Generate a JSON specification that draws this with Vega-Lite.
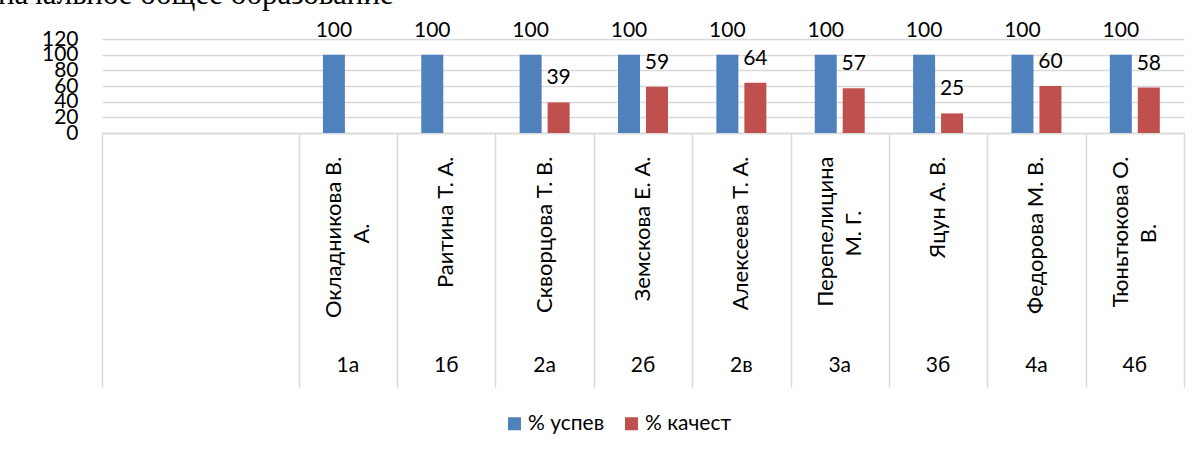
{
  "$schema": "https://vega.github.io/schema/vega-lite/v6.json",
  "width": 1082,
  "height": 94,
  "autosize": {"type": "none"},
  "padding": {"left": 102, "top": 39, "right": 16, "bottom": 320},
  "background": "white",
  "title": {
    "text": "начальное общее образование",
    "font": "Liberation Serif",
    "fontSize": 31,
    "fontWeight": "normal",
    "color": "#000000",
    "anchor": "start",
    "frame": "group",
    "baseline": "alphabetic",
    "offset": -15,
    "dx": -104
  },
  "config": {
    "view": {"stroke": null},
    "font": "Lato",
    "axis": {"labelFont": "Lato", "labelColor": "#000000", "labelFontSize": 21}
  },
  "data": {
    "values": [
      {"k": "Окладникова В.|А.#1а", "s": "% успев", "v": 100},
      {"k": "Раитина Т. А.#1б", "s": "% успев", "v": 100},
      {"k": "Скворцова Т. В.#2а", "s": "% успев", "v": 100},
      {"k": "Скворцова Т. В.#2а", "s": "% качест", "v": 39},
      {"k": "Земскова Е. А.#2б", "s": "% успев", "v": 100},
      {"k": "Земскова Е. А.#2б", "s": "% качест", "v": 59},
      {"k": "Алексеева Т. А.#2в", "s": "% успев", "v": 100},
      {"k": "Алексеева Т. А.#2в", "s": "% качест", "v": 64},
      {"k": "Перепелицина|М. Г.#3а", "s": "% успев", "v": 100},
      {"k": "Перепелицина|М. Г.#3а", "s": "% качест", "v": 57},
      {"k": "Яцун А. В.#3б", "s": "% успев", "v": 100},
      {"k": "Яцун А. В.#3б", "s": "% качест", "v": 25},
      {"k": "Федорова М. В.#4а", "s": "% успев", "v": 100},
      {"k": "Федорова М. В.#4а", "s": "% качест", "v": 60},
      {"k": "Тюньтюкова О.|В.#4б", "s": "% успев", "v": 100},
      {"k": "Тюньтюкова О.|В.#4б", "s": "% качест", "v": 58}
    ]
  },
  "resolve": {"axis": {"x": "independent"}},
  "layer": [
    {
      "mark": {"type": "bar"},
      "encoding": {
        "x": {
          "field": "k", "type": "nominal",
          "scale": {"domain": ["#", " #", "Окладникова В.|А.#1а", "Раитина Т. А.#1б", "Скворцова Т. В.#2а", "Земскова Е. А.#2б", "Алексеева Т. А.#2в", "Перепелицина|М. Г.#3а", "Яцун А. В.#3б", "Федорова М. В.#4а", "Тюньтюкова О.|В.#4б"], "paddingInner": 0, "paddingOuter": 0},
          "axis": {
            "orient": "bottom", "title": null, "ticks": false, "grid": false,
            "domain": true, "domainColor": "#d9d9d9", "domainWidth": 1.5,
            "labelAngle": 270, "labelAlign": "right", "labelBaseline": "middle",
            "labelFontSize": 22,
            "labelPadding": 23, "labelLimit": 0, "labelOverlap": false,
            "labelOffset": {"condition": {"test": "indexof(datum.value,'|') >= 0", "value": -14}, "value": 0},
            "labelExpr": "split(split(datum.value,'#')[0],'|')[0]"
          }
        },
        "xOffset": {"field": "s", "type": "nominal", "scale": {"domain": ["% успев", "% качест"], "paddingInner": 0.214, "paddingOuter": 0.864}},
        "y": {
          "field": "v", "type": "quantitative",
          "scale": {"domain": [0, 120], "nice": false},
          "axis": {"values": [0, 20, 40, 60, 80, 100, 120], "title": null, "domain": false, "ticks": false, "labelPadding": 24, "labelOverlap": false, "labelBaseline": "middle", "gridColor": "#d9d9d9", "gridWidth": 1.5}
        },
        "color": {
          "field": "s", "type": "nominal",
          "scale": {"domain": ["% успев", "% качест"], "range": ["#4F81BD", "#C0504D"]},
          "legend": {"orient": "none", "legendX": 402, "legendY": 374, "direction": "horizontal", "title": null, "symbolType": "square", "symbolSize": 169, "symbolStrokeWidth": 0, "labelFont": "Lato", "labelFontSize": 21, "labelColor": "#000000", "labelOffset": 3, "columnPadding": 16, "padding": 0}
        }
      }
    },
    {
      "mark": {"type": "text", "baseline": "alphabetic", "dy": -18, "fontSize": 21, "font": "Lato", "color": "#000000"},
      "encoding": {
        "x": {
          "field": "k", "type": "nominal",
          "axis": {"orient": "bottom", "title": null, "ticks": false, "domain": false, "grid": false, "labelAngle": 0, "labelAlign": "center", "labelBaseline": "middle", "labelPadding": 232, "labelOverlap": false, "labelExpr": "split(datum.value,'#')[1]"}
        },
        "xOffset": {"field": "s", "type": "nominal"},
        "y": {
          "field": "v", "type": "quantitative",
          "axis": {"values": [0, 20, 40, 60, 80, 100, 120], "title": null, "domain": false, "ticks": false, "labelPadding": 24, "labelOverlap": false, "labelBaseline": "middle", "gridColor": "#d9d9d9", "gridWidth": 1.5}
        },
        "text": {"field": "v", "type": "quantitative"}
      }
    },
    {
      "transform": [{"filter": "false"}],
      "mark": {"type": "bar"},
      "encoding": {
        "x": {
          "field": "k", "type": "nominal",
          "axis": {"orient": "bottom", "title": null, "labels": false, "domain": false, "grid": false, "ticks": true, "tickSize": 254, "tickColor": "#d9d9d9", "tickWidth": 1.5, "tickOffset": -49.18,
            "values": ["#", "Окладникова В.|А.#1а", "Раитина Т. А.#1б", "Скворцова Т. В.#2а", "Земскова Е. А.#2б", "Алексеева Т. А.#2в", "Перепелицина|М. Г.#3а", "Яцун А. В.#3б", "Федорова М. В.#4а", "Тюньтюкова О.|В.#4б"]}
        }
      }
    },
    {
      "transform": [{"filter": "false"}],
      "mark": {"type": "bar"},
      "encoding": {
        "x": {
          "field": "k", "type": "nominal",
          "axis": {"orient": "bottom", "title": null, "labels": false, "domain": false, "grid": false, "ticks": true, "tickSize": 254, "tickColor": "#d9d9d9", "tickWidth": 1.5, "tickOffset": 49.18,
            "values": ["Тюньтюкова О.|В.#4б"]}
        }
      }
    },
    {
      "transform": [{"filter": "false"}],
      "mark": {"type": "bar"},
      "encoding": {
        "x": {
          "field": "k", "type": "nominal",
          "axis": {"orient": "bottom", "title": null, "ticks": false, "domain": false, "grid": false, "labelAngle": 270, "labelAlign": "center", "labelBaseline": "middle", "labelFontSize": 22, "labelPadding": 100, "labelOffset": 14, "labelLimit": 0, "labelOverlap": false,
            "labelExpr": "length(split(split(datum.value,'#')[0],'|')) > 1 ? split(split(datum.value,'#')[0],'|')[1] : ''"}
        }
      }
    }
  ]
}
